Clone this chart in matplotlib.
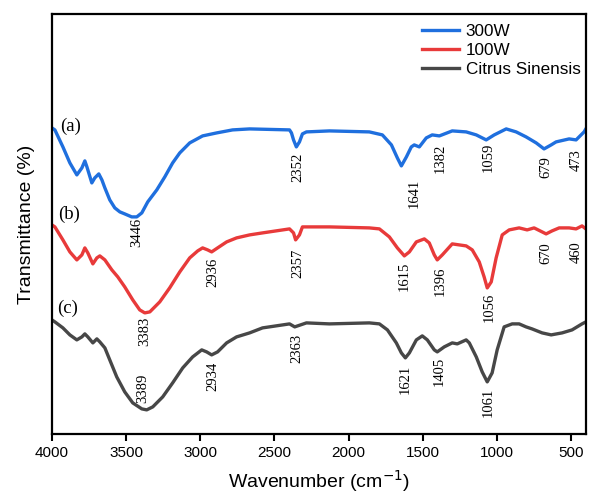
import matplotlib
matplotlib.use("Agg")
import matplotlib.pyplot as plt

plt.rcParams['font.family'] = ['Liberation Sans', 'DejaVu Sans']

# (a) 300W
wn_a = [4000, 3980, 3926, 3879, 3832, 3798, 3778, 3764, 3731, 3711, 3684, 3663,
        3643, 3610, 3576, 3542, 3509, 3462, 3428, 3394, 3354, 3293, 3239, 3186,
        3138, 3071, 2984, 2889, 2782, 2667, 2398, 2385, 2371, 2352, 2331, 2311,
        2284, 2129, 1860, 1772, 1711, 1671, 1644, 1610, 1577, 1557, 1523, 1476,
        1436, 1388, 1301, 1207, 1139, 1072, 1018, 937, 870, 803, 735, 682,
        634, 601, 513, 466, 412, 400]
t_a = [306, 304, 287, 271, 259, 266, 273, 267, 251, 256, 260, 254,
       246, 234, 226, 222, 220, 217, 217, 221, 232, 244, 257, 271,
       281, 291, 298, 301, 304, 305, 304, 301, 294, 287, 292, 300,
       302, 303, 302, 299, 289, 276, 268, 277, 287, 289, 287, 296,
       299, 298, 303, 302, 299, 294, 299, 305, 302, 297, 291, 285,
       289, 292, 295, 294, 302, 305]

# (b) 100W
wn_b = [4000, 3980, 3926, 3879, 3832, 3798, 3778, 3758, 3724, 3697, 3677, 3643,
        3596, 3556, 3509, 3455, 3408, 3374, 3340, 3273, 3206, 3138, 3071, 3017,
        2984, 2950, 2923, 2883, 2822, 2755, 2667, 2580, 2398, 2371, 2357, 2331,
        2311, 2129, 1860, 1792, 1725, 1671, 1624, 1590, 1543, 1489, 1456, 1422,
        1402, 1368, 1301, 1207, 1166, 1119, 1086, 1065, 1038, 1005, 964, 917,
        850, 796, 749, 668, 628, 580, 513, 466, 426, 400]
t_b = [209, 207, 194, 182, 174, 179, 186, 181, 170, 176, 178, 174,
       164, 157, 147, 134, 124, 121, 122, 132, 146, 162, 176, 183,
       186, 184, 182, 186, 192, 196, 199, 201, 205, 201, 194, 199,
       207, 207, 206, 205, 197, 186, 178, 182, 192, 195, 191, 179,
       174, 179, 190, 188, 184, 172, 157, 146, 152, 176, 199, 204,
       206, 204, 206, 200, 203, 206, 206, 205, 208, 205]

# (c) Citrus Sinensis
wn_c = [4000, 3980, 3926, 3879, 3832, 3798, 3778, 3758, 3724, 3697, 3677, 3643,
        3610, 3563, 3509, 3455, 3394, 3361, 3320, 3253, 3186, 3118, 3051, 2990,
        2957, 2923, 2883, 2822, 2755, 2667, 2580, 2398, 2363, 2284, 2129, 1860,
        1792, 1738, 1678, 1644, 1617, 1590, 1543, 1503, 1469, 1422, 1402, 1355,
        1301, 1267, 1207, 1186, 1139, 1099, 1065, 1032, 998, 951, 897, 850,
        803, 763, 695, 634, 560, 493, 426, 400]
t_c = [114, 112, 106, 99, 94, 97, 100, 97, 91, 95, 92, 86,
       74, 57, 42, 31, 25, 24, 27, 37, 51, 66, 77, 84,
       82, 79, 82, 91, 97, 101, 106, 110, 107, 111, 110, 111,
       110, 104, 91, 81, 76, 81, 94, 98, 94, 84, 82, 87,
       91, 90, 94, 91, 77, 62, 52, 61, 84, 107, 110, 110,
       107, 105, 101, 99, 101, 104, 110, 112]

# peak labels: text, x, y
peaks_a = [("3446", 3428, 201), ("2352", 2344, 267), ("1641", 1556, 241),
           ("1382", 1382, 276), ("1059", 1059, 277), ("679", 668, 267),
           ("473", 466, 274)]
peaks_b = [("3383", 3374, 103), ("2936", 2916, 162), ("2357", 2344, 171),
           ("1615", 1624, 158), ("1396", 1382, 153), ("1056", 1052, 127),
           ("670", 668, 181), ("460", 466, 182)]
peaks_c = [("3389", 3387, 46), ("2934", 2916, 58), ("2363", 2351, 86),
           ("1621", 1617, 55), ("1405", 1389, 63), ("1061", 1059, 32)]

letters = [("(a)", 3872, 308), ("(b)", 3886, 220), ("(c)", 3892, 126)]

fig = plt.figure(figsize=(5.9, 4.97), dpi=100)
ax = fig.add_axes([0.088, 0.127, 0.905, 0.845])

ax.plot(wn_a, t_a, color='#1f6fde', lw=2.4, label='300W', solid_joinstyle='round')
ax.plot(wn_b, t_b, color='#e83a3a', lw=2.4, label='100W', solid_joinstyle='round')
ax.plot(wn_c, t_c, color='#474747', lw=2.4, label='Citrus Sinensis', solid_joinstyle='round')

for peaks in (peaks_a, peaks_b, peaks_c):
    for txt, x, y in peaks:
        ax.text(x, y, txt, rotation=90, ha='center', va='center',
                fontsize=10.5, family=['Liberation Serif', 'DejaVu Serif'])

for txt, x, y in letters:
    ax.text(x, y, txt, ha='center', va='center', fontsize=13.5,
            family=['Liberation Serif', 'DejaVu Serif'])

ax.set_xlim(4000, 400)
ax.set_ylim(0, 420)
ax.set_xticks([4000, 3500, 3000, 2500, 2000, 1500, 1000, 500])
ax.set_yticks([])
ax.tick_params(axis='x', direction='out', length=5, width=1.5, labelsize=11)
for sp in ax.spines.values():
    sp.set_linewidth(1.6)

ax.set_xlabel('Wavenumber (cm$^{-1}$)', fontsize=14, labelpad=6)
ax.set_ylabel('Transmittance (%)', fontsize=14, labelpad=12)

ax.legend(loc='upper right', bbox_to_anchor=(1.0, 0.988), frameon=False,
          fontsize=12.3, handlelength=2.15, labelspacing=0.22, borderaxespad=0.1,
          borderpad=0.2, handletextpad=0.4)

fig.savefig('out.png', dpi=100)
